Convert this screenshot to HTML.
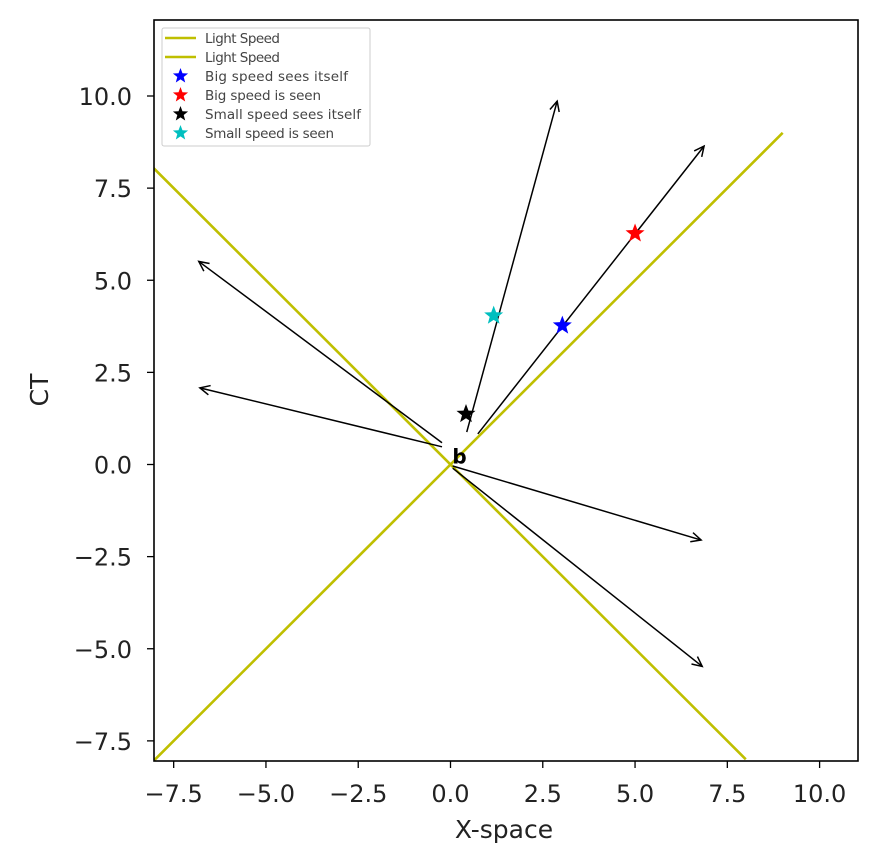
<!DOCTYPE html>
<html><head><meta charset="utf-8"><style>
html,body{margin:0;padding:0;background:#fff;}
svg{display:block;font-family:"DejaVu Sans","Liberation Sans",sans-serif;}
</style></head><body>
<svg id="chart" width="875" height="846" viewBox="0 0 875 846">
<defs><clipPath id="clip"><rect x="154" y="20" width="704" height="741"/></clipPath></defs>
<g id="plot" clip-path="url(#clip)"></g>
<g id="axes"></g>
</svg>
<script>
const xTicks=[-7.5,-5.0,-2.5,0.0,2.5,5.0,7.5,10.0];
const yTicks=[-7.5,-5.0,-2.5,0.0,2.5,5.0,7.5,10.0];
const lightX1=[-8.2,8];const lightY1=[8.2,-8];
const lightX2=[-8.2,9];const lightY2=[-8.2,9];
const arrowStartX=[0.44,0.74,-0.23,-0.23,0.06,0.06];
const arrowStartY=[0.88,0.83,0.59,0.48,-0.04,-0.10];
const arrowEndX=[2.89,6.87,-6.82,-6.79,6.79,6.82];
const arrowEndY=[9.86,8.64,5.51,2.08,-2.05,-5.48];
const starX=[3.03,5.0,0.42,1.17];
const starY=[3.77,6.27,1.37,4.04];
const starColors=["#0000ff","#ff0000","#000000","#00bfbf"];
const legendLabels=["Light Speed","Light Speed","Big speed sees itself","Big speed is seen","Small speed sees itself","Small speed is seen"];
const NS="http://www.w3.org/2000/svg";
const L=154,R=858,T=20,B=761;
const sx=v=>450.5+36.91*v;
const sy=v=>464.5-36.85*v;
function mk(tag,at,parent){const e=document.createElementNS(NS,tag);for(const k in at)e.setAttribute(k,at[k]);parent.appendChild(e);return e;}
const plot=document.getElementById('plot'),axes=document.getElementById('axes');
[[lightX1,lightY1],[lightX2,lightY2]].forEach((d,i)=>{
 const l=mk('line',{x1:sx(d[0][0]),y1:sy(d[1][0]),x2:sx(d[0][1]),y2:sy(d[1][1]),stroke:'#bfbf00','stroke-width':2.6},plot);
 
 
});
arrowStartX.forEach((_,i)=>{
 const x1=sx(arrowStartX[i]),y1=sy(arrowStartY[i]),x2=sx(arrowEndX[i]),y2=sy(arrowEndY[i]);
 const g=mk('g',{},plot);
 
 
 mk('line',{x1,y1,x2,y2,stroke:'#000','stroke-width':1.5},g);
 const a=Math.atan2(y2-y1,x2-x1),h=11,w=0.45;
 const p=[[x2-h*Math.cos(a-w),y2-h*Math.sin(a-w)],[x2,y2],[x2-h*Math.cos(a+w),y2-h*Math.sin(a+w)]];
 mk('polyline',{points:p.map(q=>q.join(',')).join(' '),fill:'none',stroke:'#000','stroke-width':1.5},g);
});
function starPath(cx,cy,r){let s='';for(let k=0;k<10;k++){const rr=k%2?r*0.42:r;const an=-Math.PI/2+k*Math.PI/5;s+=(k?'L':'M')+(cx+rr*Math.cos(an)).toFixed(2)+','+(cy+rr*Math.sin(an)).toFixed(2);}return s+'Z';}
starX.forEach((_,i)=>{
 const s=mk('path',{d:starPath(sx(starX[i]),sy(starY[i]),10),fill:starColors[i]},plot);
 
 
});
const bt=mk('text',{x:sx(0.05),y:sy(0)-1,'font-size':20,'font-weight':'bold',fill:'#000'},plot);
bt.textContent='b';


const fr=mk('rect',{x:L,y:T,width:R-L,height:B-T,fill:'none',stroke:'#000','stroke-width':1.6},axes);


xTicks.forEach(v=>{
 const x=sx(v);mk('line',{x1:x,y1:B,x2:x,y2:B+7,stroke:'#000','stroke-width':1.3},axes);
 const t=mk('text',{x:x,y:802,'text-anchor':'middle','font-size':24,fill:'#222'},axes);t.textContent=v.toFixed(1).replace('-','\u2212');
 
 
});
yTicks.forEach(v=>{
 const y=sy(v);mk('line',{x1:L-7,y1:y,x2:L,y2:y,stroke:'#000','stroke-width':1.3},axes);
 const t=mk('text',{x:132,y:y+9,'text-anchor':'end','font-size':24,fill:'#222'},axes);t.textContent=v.toFixed(1).replace('-','\u2212');
 
 
});
const xt=mk('text',{x:504,y:838,'text-anchor':'middle','font-size':25,fill:'#222'},axes);xt.textContent='X-space';


const yt=mk('text',{x:0,y:0,'text-anchor':'middle','font-size':25,fill:'#222',transform:'translate(48,390) rotate(-90)'},axes);yt.textContent='CT';


const lg=mk('g',{},axes);


mk('rect',{x:162,y:28,width:208,height:118,rx:2,fill:'#fff','fill-opacity':0.8,stroke:'#ccc','stroke-width':1},lg);
legendLabels.forEach((lab,i)=>{
 const y=38+i*19;
 const e=mk('g',{},lg);
 
 
 if(i<2)mk('line',{x1:165,y1:y,x2:196,y2:y,stroke:'#bfbf00','stroke-width':2.6},e);
 else mk('path',{d:starPath(180.5,y,8),fill:starColors[i-2]},e);
 const t=mk('text',{x:205,y:y+5,'font-size':13.5,fill:'#444',textLength:(lab.length*6.8).toFixed(0)},e);t.textContent=lab;
});
</script>
</body></html>
